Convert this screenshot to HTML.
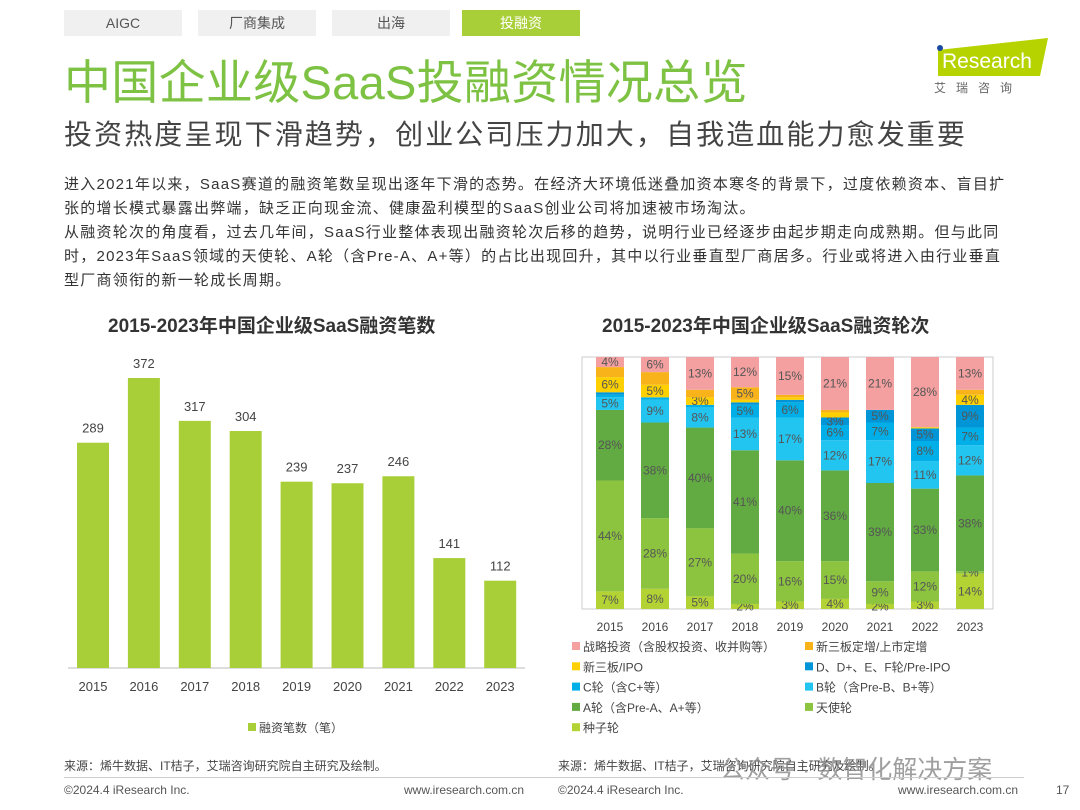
<!DOCTYPE html>
<html><head><meta charset="utf-8"><style>
body{margin:0;width:1080px;height:810px;background:#fff;position:relative;overflow:hidden;font-family:"Liberation Sans","Noto Sans CJK SC",sans-serif;color:#333}
.a{position:absolute;white-space:nowrap}
.tab{position:absolute;top:10px;height:26px;width:118px;background:#f0f0f0;color:#555;font-size:14px;text-align:center;line-height:26px}
.body p{margin:0;font-size:15px;line-height:24px;color:#333;letter-spacing:1.25px}
</style></head><body>
<div class="tab" style="left:64px">AIGC</div>
<div class="tab" style="left:198px">厂商集成</div>
<div class="tab" style="left:332px">出海</div>
<div class="tab" style="left:462px;background:#a9cf38;color:#fff">投融资</div>
<div class="a" style="left:64px;top:44px;font-size:47px;color:#7dc243;letter-spacing:0.3px">中国企业级SaaS投融资情况总览</div>
<div class="a" style="left:64px;top:113px;font-size:28px;color:#444;letter-spacing:2.1px">投资热度呈现下滑趋势，创业公司压力加大，自我造血能力愈发重要</div>
<div class="a" style="left:930px;top:38px;width:120px;height:60px">
<svg width="120" height="60"><polygon points="8,12 118,0 110,38 8,38" fill="#b6d300"/><circle cx="10" cy="10" r="3" fill="#1a4aa0"/><text x="12" y="30" font-size="21" fill="#fff" font-family="Liberation Sans">Research</text><text x="4" y="54" font-size="12" fill="#666" letter-spacing="10">艾瑞咨询</text></svg></div>
<div class="a body" style="left:64px;top:173px;width:980px">
<p>进入2021年以来，SaaS赛道的融资笔数呈现出逐年下滑的态势。在经济大环境低迷叠加资本寒冬的背景下，过度依赖资本、盲目扩<br>张的增长模式暴露出弊端，缺乏正向现金流、健康盈利模型的SaaS创业公司将加速被市场淘汰。</p>
<p>从融资轮次的角度看，过去几年间，SaaS行业整体表现出融资轮次后移的趋势，说明行业已经逐步由起步期走向成熟期。但与此同<br>时，2023年SaaS领域的天使轮、A轮（含Pre-A、A+等）的占比出现回升，其中以行业垂直型厂商居多。行业或将进入由行业垂直<br>型厂商领衔的新一轮成长周期。</p></div>
<div class="a" style="left:108px;top:311px;font-size:19px;font-weight:bold;color:#333">2015-2023年中国企业级SaaS融资笔数</div>
<div class="a" style="left:602px;top:311px;font-size:19px;font-weight:bold;color:#333">2015-2023年中国企业级SaaS融资轮次</div>
<svg id="c1" class="a" style="left:0;top:340px" width="540" height="400"></svg>
<svg id="c2" class="a" style="left:540px;top:340px" width="540" height="420"></svg>
<div class="a" style="left:64px;top:757px;font-size:12px;color:#444">来源：烯牛数据、IT桔子，艾瑞咨询研究院自主研究及绘制。</div>
<div class="a" style="left:558px;top:757px;font-size:12px;color:#444">来源：烯牛数据、IT桔子，艾瑞咨询研究院自主研究及绘制。</div>
<div class="a" style="left:720px;top:750px;font-size:25px;color:#888;opacity:.8">公众号 · 数智化解决方案</div>
<div class="a" style="left:64px;top:777px;width:960px;border-top:1px solid #ccc"></div>
<div class="a" style="left:64px;top:783px;font-size:12px;color:#555">©2024.4 iResearch Inc.</div>
<div class="a" style="left:404px;top:783px;font-size:12px;color:#555">www.iresearch.com.cn</div>
<div class="a" style="left:558px;top:783px;font-size:12px;color:#555">©2024.4 iResearch Inc.</div>
<div class="a" style="left:898px;top:783px;font-size:12px;color:#555">www.iresearch.com.cn</div>
<div class="a" style="left:1056px;top:783px;font-size:12px;color:#555">17</div>
<script>
const years=["2015","2016","2017","2018","2019","2020","2021","2022","2023"];
const deals=[289,372,317,304,239,237,246,141,112];
const seriesNames=["种子轮","天使轮","A轮（含Pre-A、A+等）","B轮（含Pre-B、B+等）","C轮（含C+等）","D、D+、E、F轮/Pre-IPO","新三板/IPO","新三板定增/上市定增","战略投资（含股权投资、收并购等）"];
const seed=[7,8,5,2,3,4,2,3,14];
const angel=[44,28,27,20,16,15,9,12,1];
const roundA=[28,38,40,41,40,36,39,33,38];
const roundB=[5,9,8,13,17,12,17,11,12];
const roundC=[1,1,1,5,6,6,7,8,7];
const roundD=[1,0,0,1,1,3,5,5,9];
const ipo=[6,5,3,1,1,2,0,0.5,4];
const dingzeng=[4,5,3,5,1,1,0,0,2];
const strategic=[4,6,13,12,15,21,21,28,13];
const NS="http://www.w3.org/2000/svg";
function mk(svg,tag,at,txt){const e=document.createElementNS(NS,tag);for(const k in at)e.setAttribute(k,at[k]);if(txt!==undefined)e.textContent=txt;svg.appendChild(e);return e;}
// chart 1
const c1=document.getElementById('c1');
const base1=328,scale1=290/372,x1=i=>93+i*50.9;
let ax=mk(c1,'line',{x1:68,x2:525,y1:base1,y2:base1,stroke:'#bbb'});


deals.forEach((v,i)=>{const h=v*scale1;
 const r=mk(c1,'rect',{x:x1(i)-16,y:base1-h,width:32,height:h,fill:'#a9cf38'});
 
 
 const t=mk(c1,'text',{x:x1(i),y:base1-h-10,'text-anchor':'middle','font-size':13,fill:'#444'},v);
 
 
 const l=mk(c1,'text',{x:x1(i),y:base1+23,'text-anchor':'middle','font-size':13,fill:'#444'},years[i]);
 
 
});
let lg=mk(c1,'rect',{x:248,y:383,width:8,height:8,fill:'#a9cf38'});


let lt=mk(c1,'text',{x:259,y:392,'font-size':12,fill:'#444'},'融资笔数（笔）');


// chart 2
const c2=document.getElementById('c2');
const series=[seed,angel,roundA,roundB,roundC,roundD,ipo,dingzeng,strategic];
const colors=["#b3d334","#8cc43f","#62ab43","#22c4f0","#00aee8","#0095d6","#ffd000","#f8b31a","#f4a0a0"];
const top2=17,bot2=269,x2=i=>70+i*45;
let box=mk(c2,'rect',{x:42,y:top2,width:411,height:bot2-top2,fill:'none',stroke:'#ccc'});


years.forEach((y,i)=>{
 let tot=0;series.forEach(s=>tot+=s[i]);
 let acc=0;
 series.forEach((s,k)=>{const v=s[i];if(v<=0)return;
  const y1=bot2-acc/tot*(bot2-top2);acc+=v;const y0=bot2-acc/tot*(bot2-top2);
  const r=mk(c2,'rect',{x:x2(i)-14,y:y0,width:28,height:y1-y0,fill:colors[k]});
  
  
  let show=v>=3||(k==0&&v>=2)||(k==1&&i==8);
  if(k==7&&!(v>ipo[i]&&v>=3))show=false;
  if(show){const t=mk(c2,'text',{x:x2(i),y:(y0+y1)/2+4,'text-anchor':'middle','font-size':12,fill:'#555'},Math.round(v)+'%');
   
   }
 });
 const l=mk(c2,'text',{x:x2(i),y:bot2+22,'text-anchor':'middle','font-size':12,fill:'#444'},y);
 
 
});
const order=[8,7,6,5,4,3,2,1,0];
order.forEach((k,j)=>{const col=j%2,row=Math.floor(j/2);
 const x=32+col*233,y=311+row*20.3;
 const r=mk(c2,'rect',{x:x,y:y-9,width:8,height:8,fill:colors[k]});
 
 
 const t=mk(c2,'text',{x:x+11,y:y,'font-size':12,fill:'#444'},seriesNames[k]);
 
 
});
</script>
</body></html>
